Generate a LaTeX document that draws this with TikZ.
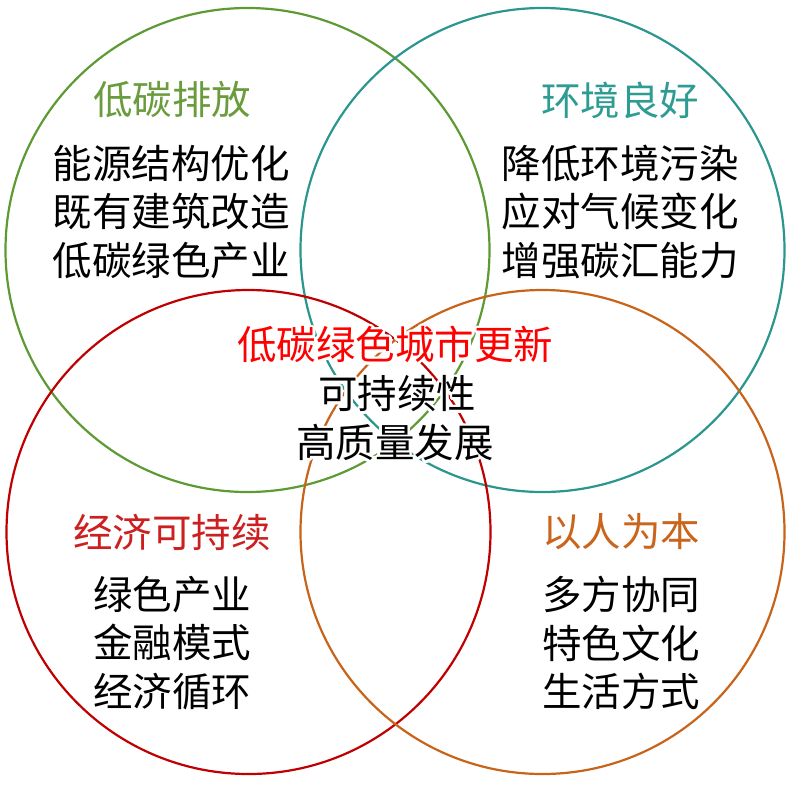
\documentclass[tikz,border=0pt]{standalone}
\usepackage{fontspec}
\usepackage{contour}
\setmainfont{Noto Sans CJK SC}
\contourlength{2.5pt}
\definecolor{cgreen}{HTML}{5E9A34}
\definecolor{cteal}{HTML}{2A968D}
\definecolor{cred}{HTML}{C00000}
\definecolor{corange}{HTML}{C8631A}
\definecolor{tgreen}{HTML}{6A9B3C}
\definecolor{tteal}{HTML}{2E9C93}
\definecolor{tred}{HTML}{CC1F1F}
\definecolor{torange}{HTML}{C9651C}
\begin{document}
\begin{tikzpicture}[x=1pt,y=-1pt,
  ring/.style={line width=2.2pt},
  ttl/.style={font=\fontsize{39.5}{48}\selectfont, inner sep=0pt},
  body/.style={font=\fontsize{39.5}{48.5}\selectfont, align=center, inner sep=0pt, text=black},
]
\useasboundingbox (0,0) rectangle (792,785);
\draw[ring, cgreen] (247.5,250) circle[radius=242pt];
\draw[ring, cteal] (542.5,250) circle[radius=242pt];
\draw[ring, cred] (248.5,532) circle[radius=242pt];
\draw[ring, corange] (542.5,532) circle[radius=242pt];

\node[ttl, text=tgreen] (t1) at (172,100) {低碳排放};
\node[body] (b1) at (171,212) {能源结构优化\\既有建筑改造\\低碳绿色产业};
\node[ttl, text=tteal] (t2) at (620,100) {环境良好};
\node[body] (b2) at (620,212) {降低环境污染\\应对气候变化\\增强碳汇能力};
\node[ttl, text=tred] (t3) at (172,532) {经济可持续};
\node[body] (b3) at (172,643) {绿色产业\\金融模式\\经济循环};
\node[ttl, text=torange] (t4) at (621,532) {以人为本};
\node[body] (b4) at (621,643) {多方协同\\特色文化\\生活方式};

\node[ttl, text=red] (c0) at (395,346) {\contour{white}{低碳绿色城市更新}};
\node[ttl, text=black] (c1) at (397,395) {\contour{white}{可持续性}};
\node[ttl, text=black] (c2) at (395,444) {\contour{white}{高质量发展}};
\end{tikzpicture}
\end{document}
